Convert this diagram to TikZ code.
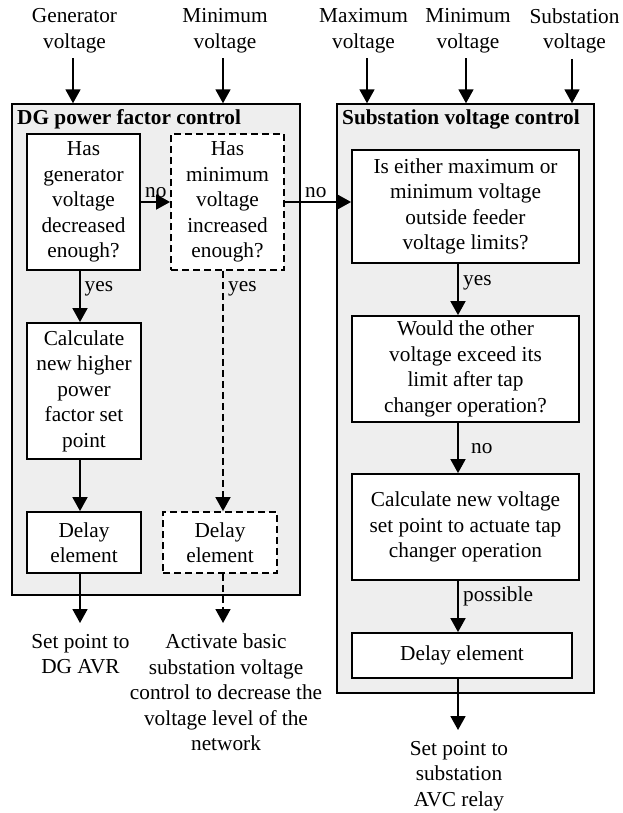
\documentclass[tikz,border=0pt]{standalone}
\usepackage{fontspec}
\setmainfont{Liberation Serif}
\usetikzlibrary{arrows.meta}
\definecolor{panelgray}{RGB}{238,238,238}
\begin{document}
\begin{tikzpicture}[x=1pt,y=-1pt,
  font=\fontsize{21.3}{25.5}\selectfont,
  panel/.style={draw=black, line width=1.4pt, fill=panelgray, inner sep=0pt},
  box/.style={draw=black, line width=1.8pt, fill=white, inner sep=0pt, align=center},
  dbox/.style={box, dash pattern=on 7pt off 4pt},
  txt/.style={inner sep=0pt, align=center},
  lbl/.style={inner sep=0pt, anchor=base west},
  ttl/.style={inner sep=0pt, anchor=base west, font=\fontsize{21.3}{25.5}\selectfont\bfseries},
  arr/.style={line width=1.8pt, -{Triangle[length=14pt,width=15pt]}},
  darr/.style={arr, dash pattern=on 7pt off 4pt},
]
\useasboundingbox (0,0) rectangle (622,813);

% control panels
\node[panel, minimum width=288pt, minimum height=491pt] (lp) at (156,349.5) {};
\node[panel, minimum width=257pt, minimum height=589pt] (rp) at (465.5,398.5) {};
\node[ttl] (lpt) at (17,125) {DG power factor control};
\node[ttl] (rpt) at (342,125) {Substation voltage control};

% DG power factor control blocks
\node[box, minimum width=113pt, minimum height=136pt] (q1) at (83.5,202)
  {Has\\generator\\voltage\\decreased\\enough?};
\node[dbox, minimum width=113pt, minimum height=136pt] (q2) at (227.5,202)
  {Has\\minimum\\voltage\\increased\\enough?};
\node[box, minimum width=114pt, minimum height=136pt] (calc) at (84,391)
  {Calculate\\new higher\\power\\factor set\\point};
\node[box, minimum width=114pt, minimum height=61pt] (dl1) at (84,542.5) {Delay\\element};
\node[dbox, minimum width=114pt, minimum height=61pt] (dl2) at (220,542.5) {Delay\\element};

% substation voltage control blocks
\node[box, minimum width=227pt, minimum height=113pt] (r1) at (465.5,206.5)
  {Is either maximum or\\minimum voltage\\outside feeder\\voltage limits?};
\node[box, minimum width=227pt, minimum height=106pt] (r2) at (465.5,369)
  {Would the other\\voltage exceed its\\limit after tap\\changer operation?};
\node[box, minimum width=227pt, minimum height=106pt] (r3) at (465.5,527)
  {Calculate new voltage\\set point to actuate tap\\changer operation};
\node[box, minimum width=220pt, minimum height=45pt] (r4) at (462,655.5) {Delay element};

% inputs
\node[txt, anchor=north] (in1) at (74.5,8.5) {Generator\\voltage};
\node[txt, anchor=north] (in2) at (225,8.5) {Minimum\\voltage};
\node[txt, anchor=north] (in3) at (363.5,8.5) {Maximum\\voltage};
\node[txt, anchor=north] (in4) at (468,8.5) {Minimum\\voltage};
\node[txt, anchor=north] (in5) at (574.5,8.5) {Substation\\voltage};

% outputs
\node[txt, anchor=north] (out1) at (80.5,634) {Set point to\\DG AVR};
\node[txt, anchor=north] (out2) at (226,634)
  {Activate basic\\substation voltage\\control to decrease the\\voltage level of the\\network};
\node[txt, anchor=north] (out3) at (459,741) {Set point to\\substation\\AVC relay};

% input arrows
\draw[arr, shorten <=5pt] ([xshift=-1.5pt]in1.south) -- ([xshift=-1.5pt]in1.south |- lp.north);
\draw[arr, shorten <=5pt] ([xshift=-2pt]in2.south) -- ([xshift=-2pt]in2.south |- lp.north);
\draw[arr, shorten <=5pt] ([xshift=3.5pt]in3.south) -- ([xshift=3.5pt]in3.south |- rp.north);
\draw[arr, shorten <=5pt] ([xshift=-2pt]in4.south) -- ([xshift=-2pt]in4.south |- rp.north);
\draw[arr, shorten <=5pt] ([xshift=-2.5pt]in5.south) -- ([xshift=-2.5pt]in5.south |- rp.north);

% flow inside the panels
\draw[arr] (q1.east) -- (q2.west);
\draw[arr] (q2.east) -- (q2.east -| r1.west);
\draw[arr] ([xshift=-3.5pt]q1.south) -- ([xshift=-3.5pt]q1.south |- calc.north);
\draw[arr] ([xshift=-4pt]calc.south) -- ([xshift=-4pt]calc.south |- dl1.north);
\draw[darr] ([xshift=-4.5pt]q2.south) -- ([xshift=-4.5pt]q2.south |- dl2.north);
\draw[arr] ([xshift=-7.5pt]r1.south) -- ([xshift=-7.5pt]r1.south |- r2.north);
\draw[arr] ([xshift=-7.5pt]r2.south) -- ([xshift=-7.5pt]r2.south |- r3.north);
\draw[arr] ([xshift=-7.5pt]r3.south) -- ([xshift=-7.5pt]r3.south |- r4.north);

% output arrows
\draw[arr, shorten >=11pt] ([xshift=-4pt]dl1.south) -- ([xshift=-4pt]dl1.south |- out1.north);
\draw[darr, shorten >=11pt] ([xshift=3pt]dl2.south) -- ([xshift=3pt]dl2.south |- out2.north);
\draw[arr, shorten >=11pt] ([xshift=-4pt]r4.south) -- ([xshift=-4pt]r4.south |- out3.north);

% branch labels
\node[lbl] (y1) at (84.5,291) {yes};
\node[lbl] (y2) at (228,291) {yes};
\node[lbl] (y3) at (463,285) {yes};
\node[lbl] (n1) at (145,197) {no};
\node[lbl] (n2) at (305,197) {no};
\node[lbl] (n3) at (471,453) {no};
\node[lbl] (p1) at (463,601) {possible};
\end{tikzpicture}
\end{document}
